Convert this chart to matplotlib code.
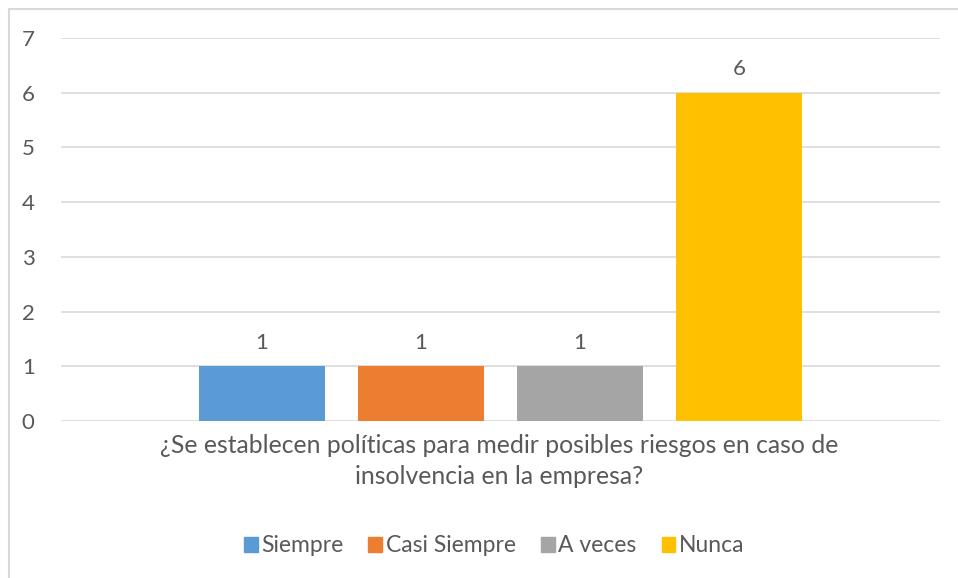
import matplotlib
matplotlib.use("Agg")
import matplotlib.pyplot as plt
from matplotlib.patches import Rectangle, Patch

# datos del grafico
categoria = "¿Se establecen políticas para medir posibles riesgos en caso de\ninsolvencia en la empresa?"
series = ["Siempre", "Casi Siempre", "A veces", "Nunca"]
valores = [1, 1, 1, 6]
colores = ["#5B9BD5", "#ED7D31", "#A5A5A5", "#FFC000"]
yticks = [0, 1, 2, 3, 4, 5, 6, 7]

plt.rcParams['font.family'] = ['Lato', 'DejaVu Sans']
gris = "#595959"

W, H = 958, 578
fig = plt.figure(figsize=(W / 100, H / 100), dpi=100)
ax = fig.add_axes([61 / W, 1 - 421 / H, (940 - 61) / W, (421 - 38) / H])

ancho = 126 / 879
paso = 159 / 879
for i, (s, v, c) in enumerate(zip(series, valores, colores)):
    x = (i - 1.5) * paso
    ax.bar(x, v, width=ancho, color=c, label=s, zorder=3)
    ax.text(x, v + 0.25, str(v), ha='center', va='bottom', fontsize=16, color=gris)

ax.set_xlim(-0.5, 0.5)
ax.set_ylim(0, 7)
ax.set_yticks(yticks)
ax.set_yticklabels([str(t) for t in yticks], fontsize=16, color=gris)
ax.tick_params(axis='y', length=0, pad=19)
ax.set_xticks([])
ax.grid(axis='y', color='#D9D9D9', linewidth=1.2, zorder=0)
for sp in ax.spines.values():
    sp.set_visible(False)

fig.text(499 / W, 1 - 461 / H, categoria, ha='center', va='center', fontsize=17.8,
         color=gris, linespacing=1.45)

handles = [Patch(color=c, label=s) for s, c in zip(series, colores)]
fig.legend(handles=handles, loc='center', bbox_to_anchor=(494 / W, 1 - 546 / H), ncol=4,
           frameon=False, fontsize=16.5, labelcolor=gris, handlelength=0.6,
           handleheight=0.6, handletextpad=0.15, columnspacing=1.1)

# borde del area del grafico
fig.patches.append(Rectangle((9 / W, -0.1), 1.2, 1 - 9 / H + 0.1, transform=fig.transFigure,
                             fill=False, edgecolor='#D9D9D9', linewidth=1.5))

fig.savefig("out.png", dpi=100)
